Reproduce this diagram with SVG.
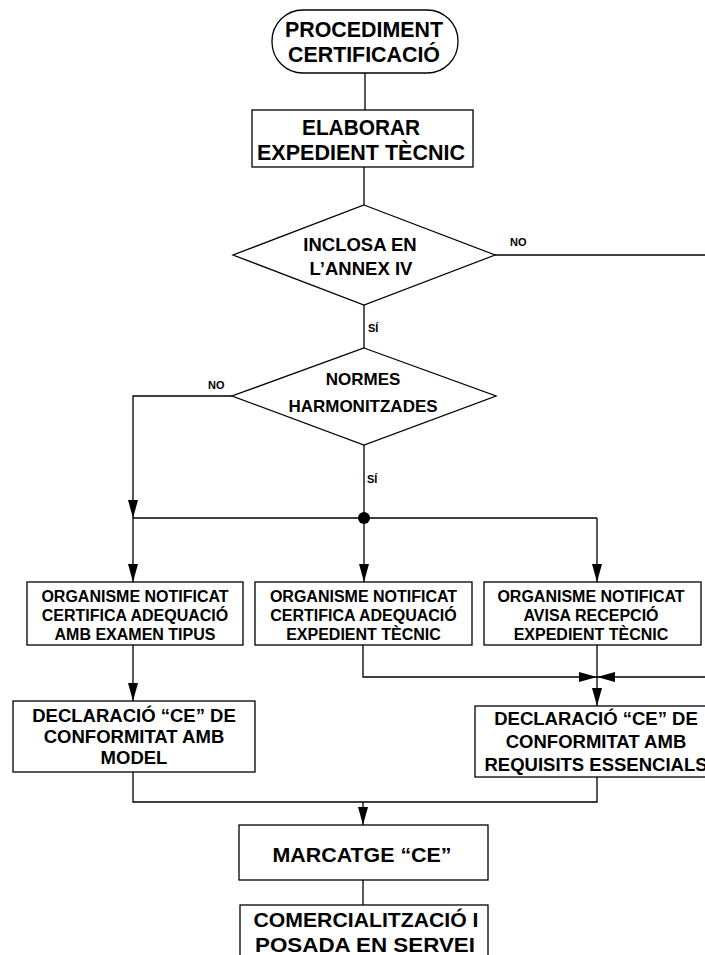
<svg xmlns="http://www.w3.org/2000/svg" width="705" height="955" viewBox="0 0 705 955">
<style>
.s{fill:#fff;stroke:#000;stroke-width:1.3}
.c{fill:none;stroke:#000;stroke-width:1.3}
text{font-family:"Liberation Sans",Arial,sans-serif;font-weight:bold;fill:#000;text-anchor:middle}
.t22{font-size:22px}
.t20{font-size:20px}
.t18{font-size:18.5px}
.t17{font-size:17px}
.t16{font-size:16px}
.lb{font-size:11px;text-anchor:start}
</style>
<defs>
<marker id="ah" markerUnits="userSpaceOnUse" markerWidth="18" markerHeight="10" refX="18" refY="5" orient="auto" viewBox="0 0 18 10">
<path d="M0,0 L18,5 L0,10 z" fill="#000"/>
</marker>
</defs>
<rect width="705" height="955" fill="#fff"/>
<g id="connectors">
<path class="c" d="M365,73 V110"/>
<path class="c" d="M364,167 V205"/>
<path class="c" d="M495,255 H705"/>
<path class="c" d="M364,305 V348"/>
<path class="c" d="M232,396 H133 V518" marker-end="url(#ah)"/>
<path class="c" d="M364,445 V518"/>
<path class="c" d="M133,518 H597"/>
<path class="c" d="M133,518 V582" marker-end="url(#ah)"/>
<path class="c" d="M364,518 V582" marker-end="url(#ah)"/>
<path class="c" d="M597,518 V582" marker-end="url(#ah)"/>
<path class="c" d="M133,645 V701" marker-end="url(#ah)"/>
<path class="c" d="M363,645 V677 H597" marker-end="url(#ah)"/>
<path class="c" d="M705,677 H597" marker-end="url(#ah)"/>
<path class="c" d="M597,645 V706" marker-end="url(#ah)"/>
<path class="c" d="M133,772 V802 H597 V777"/>
<path class="c" d="M363,802 V825" marker-end="url(#ah)"/>
<path class="c" d="M363,880 V905"/>
<circle cx="364" cy="518" r="6" fill="#000"/>
<text class="lb" x="510" y="246">NO</text>
<text class="lb" x="368" y="332">SÍ</text>
<text class="lb" x="208" y="389">NO</text>
<text class="lb" x="367" y="483">SÍ</text>
</g>
<g id="n-start">
<rect class="s" x="272" y="10" width="186" height="63" rx="31" ry="31"/>
<text class="t22" x="364" y="37" textLength="158" lengthAdjust="spacingAndGlyphs">PROCEDIMENT</text>
<text class="t22" x="364" y="62" textLength="152" lengthAdjust="spacingAndGlyphs">CERTIFICACIÓ</text>
</g>
<g id="n-elaborar">
<rect class="s" x="252" y="110" width="221" height="57"/>
<text class="t22" x="361" y="135" textLength="118" lengthAdjust="spacingAndGlyphs">ELABORAR</text>
<text class="t22" x="361" y="160" textLength="208" lengthAdjust="spacingAndGlyphs">EXPEDIENT TÈCNIC</text>
</g>
<g id="n-annex">
<path class="s" d="M364,205 L495,255 L364,305 L233,255 z"/>
<text class="t18" x="360" y="251">INCLOSA EN</text>
<text class="t18" x="361" y="275">L’ANNEX IV</text>
</g>
<g id="n-normes">
<path class="s" d="M364,348 L496,396 L364,445 L232,396 z"/>
<text class="t17" x="363" y="385">NORMES</text>
<text class="t17" x="363" y="412">HARMONITZADES</text>
</g>
<g id="n-org1">
<rect class="s" x="27" y="582" width="216" height="63"/>
<text class="t16" x="135" y="602">ORGANISME NOTIFICAT</text>
<text class="t16" x="135" y="621">CERTIFICA ADEQUACIÓ</text>
<text class="t16" x="135" y="640">AMB EXAMEN TIPUS</text>
</g>
<g id="n-org2">
<rect class="s" x="255" y="582" width="217" height="63"/>
<text class="t16" x="363.5" y="602">ORGANISME NOTIFICAT</text>
<text class="t16" x="363.5" y="621">CERTIFICA ADEQUACIÓ</text>
<text class="t16" x="363.5" y="640">EXPEDIENT TÈCNIC</text>
</g>
<g id="n-org3">
<rect class="s" x="484" y="582" width="217" height="63"/>
<text class="t16" x="591" y="602">ORGANISME NOTIFICAT</text>
<text class="t16" x="591" y="621">AVISA RECEPCIÓ</text>
<text class="t16" x="591" y="640">EXPEDIENT TÈCNIC</text>
</g>
<g id="n-decl1">
<rect class="s" x="13" y="701" width="242" height="71"/>
<text class="t18" x="134" y="722">DECLARACIÓ “CE” DE</text>
<text class="t18" x="134" y="743">CONFORMITAT AMB</text>
<text class="t18" x="134" y="764">MODEL</text>
</g>
<g id="n-decl2">
<rect class="s" x="475" y="706" width="244" height="71"/>
<text class="t18" x="596" y="725">DECLARACIÓ “CE” DE</text>
<text class="t18" x="596" y="748">CONFORMITAT AMB</text>
<text class="t18" x="596" y="771">REQUISITS ESSENCIALS</text>
</g>
<g id="n-marcatge">
<rect class="s" x="239" y="825" width="249" height="55"/>
<text class="t20" x="362" y="862" textLength="179" lengthAdjust="spacingAndGlyphs">MARCATGE “CE”</text>
</g>
<g id="n-comerc">
<rect class="s" x="240" y="905" width="248" height="62"/>
<text class="t20" x="366" y="927" textLength="225" lengthAdjust="spacingAndGlyphs">COMERCIALITZACIÓ I</text>
<text class="t20" x="365" y="952" textLength="220" lengthAdjust="spacingAndGlyphs">POSADA EN SERVEI</text>
</g>
</svg>
